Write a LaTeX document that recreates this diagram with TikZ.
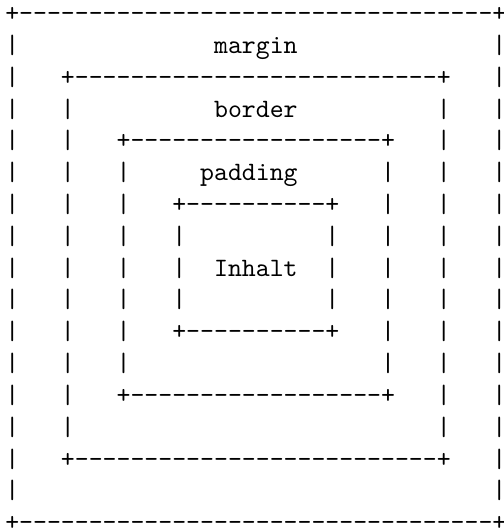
\documentclass[tikz,border=0pt]{standalone}
\usepackage{fontspec}
\usepackage{tikz}

\begin{document}
\begin{tikzpicture}[
      x=5.25pt, y=-12pt,
      zeichen/.style={font=\ttfamily, inner sep=0pt, outer sep=0pt, anchor=base},
      beschriftung/.style={zeichen}]
    \useasboundingbox (-0.88,-0.68) rectangle (35.27,16.01);
    % Rahmen: linke Spalte / rechte Spalte / obere Zeile / untere Zeile
    \foreach \l/\r/\o/\u [count=\k] in {0/35/0/16, 4/31/2/14, 8/27/4/12, 12/23/6/10} {
      \node[zeichen] (e\k-lo) at (\l,\o) {+};
      \node[zeichen] (e\k-ro) at (\r,\o) {+};
      \node[zeichen] (e\k-lu) at (\l,\u) {+};
      \node[zeichen] (e\k-ru) at (\r,\u) {+};
      \pgfmathtruncatemacro\a{\l+1}
      \pgfmathtruncatemacro\b{\r-1}
      \foreach \x in {\a,...,\b} {
        \node[zeichen] (h\k-o\x) at (\x,\o) {-};
        \node[zeichen] (h\k-u\x) at (\x,\u) {-};
      }
      \pgfmathtruncatemacro\c{\o+1}
      \pgfmathtruncatemacro\d{\u-1}
      \foreach \y in {\c,...,\d} {
        \node[zeichen] (v\k-l\y) at (\l,\y) {|};
        \node[zeichen] (v\k-r\y) at (\r,\y) {|};
      }
    }
    \node[beschriftung] (margin) at (17.5,1) {margin};
    \node[beschriftung] (border) at (17.5,3) {border};
    \node[beschriftung] (padding) at (17,5) {padding};
    \node[beschriftung] (inhalt) at (17.5,8) {Inhalt};
  \end{tikzpicture}
\end{document}
